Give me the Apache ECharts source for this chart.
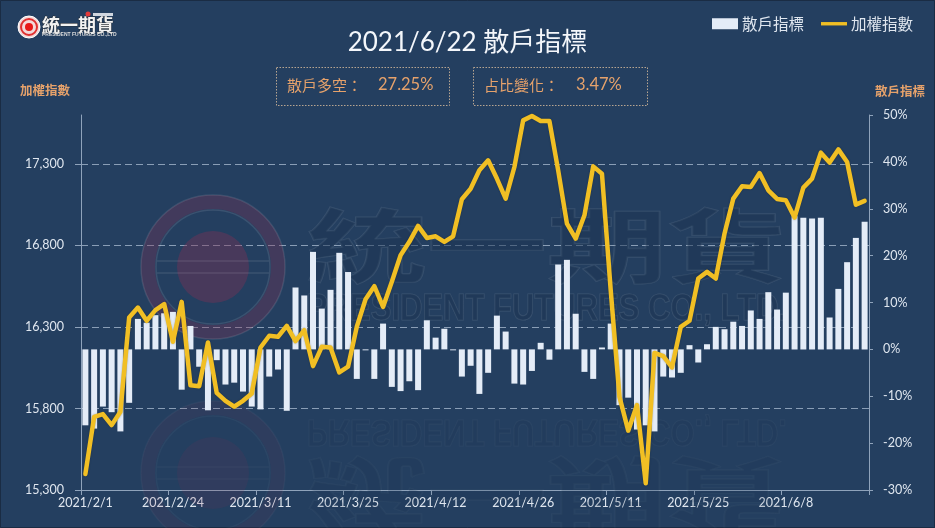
<!DOCTYPE html>
<html><head><meta charset="utf-8">
<style>html,body{margin:0;padding:0;background:#243f60}#c{width:935px;height:528px}</style>
<script src="https://cdn.jsdelivr.net/npm/echarts@6/dist/echarts.min.js"></script></head>
<body><div id="c"></div>
<script>
const dates=["2021/2/1","2021/2/2","2021/2/3","2021/2/4","2021/2/5","2021/2/17","2021/2/18","2021/2/19","2021/2/22","2021/2/23",
"2021/2/24","2021/2/25","2021/2/26","2021/3/2","2021/3/3","2021/3/4","2021/3/5","2021/3/8","2021/3/9","2021/3/10",
"2021/3/11","2021/3/12","2021/3/15","2021/3/16","2021/3/17","2021/3/18","2021/3/19","2021/3/22","2021/3/23","2021/3/24",
"2021/3/25","2021/3/26","2021/3/29","2021/3/30","2021/3/31","2021/4/1","2021/4/6","2021/4/7","2021/4/8","2021/4/9",
"2021/4/12","2021/4/13","2021/4/14","2021/4/15","2021/4/16","2021/4/19","2021/4/20","2021/4/21","2021/4/22","2021/4/23",
"2021/4/26","2021/4/27","2021/4/28","2021/4/29","2021/5/3","2021/5/4","2021/5/5","2021/5/6","2021/5/7","2021/5/10",
"2021/5/11","2021/5/12","2021/5/13","2021/5/14","2021/5/17","2021/5/18","2021/5/19","2021/5/20","2021/5/21","2021/5/24",
"2021/5/25","2021/5/26","2021/5/27","2021/5/28","2021/5/31","2021/6/1","2021/6/2","2021/6/3","2021/6/4","2021/6/7",
"2021/6/8","2021/6/9","2021/6/10","2021/6/11","2021/6/15","2021/6/16","2021/6/17","2021/6/18","2021/6/21","2021/6/22"];
const retailIndicator=[-16.2,-16.9,-12.2,-13.4,-17.5,-11.4,6.5,5.7,7.3,7.7,
8.0,-8.6,5.0,-3.7,-13.0,-2.3,-7.5,-7.1,-9.0,-12.2,
-12.8,-5.8,-4.3,-13.1,13.2,11.5,20.8,8.7,12.7,20.6,
16.5,-6.3,-0.2,-6.3,5.5,-8.0,-8.9,-6.8,-8.7,6.2,
2.5,4.4,-0.2,-5.8,-3.5,-9.5,-5.0,7.2,3.8,-7.3,
-7.5,-4.6,1.4,-2.2,18.1,19.1,7.6,-4.8,-6.3,0.4,
5.5,-11.9,-10.3,-17.1,-16.2,-17.5,-5.8,-6.0,-5.0,0.9,
-2.8,1.1,4.8,4.3,5.9,5.0,8.3,6.5,12.2,8.5,
12.1,28.4,28.1,27.9,28.1,6.8,12.9,18.6,23.78,27.25];
const weightedIndex=[15398,15749,15766,15698,15780,16358,16419,16338,16403,16440,
16209,16454,15943,15937,16205,15896,15847,15811,15847,15892,
16174,16246,16240,16307,16213,16280,16060,16178,16174,16021,
16056,16301,16470,16550,16423,16577,16740,16822,16920,16846,
16856,16822,16856,17083,17148,17261,17322,17210,17087,17281,
17567,17594,17563,17563,17261,16934,16842,16985,17285,17240,
16525,15872,15664,15821,15341,16141,16121,16052,16301,16338,
16597,16638,16597,16873,17087,17163,17159,17244,17138,17085,
17077,16971,17155,17210,17369,17308,17389,17312,17050,17073];
const leftTicks=[15300,15800,16300,16800,17300];
const FONT='Lato,"Noto Sans CJK TC",sans-serif';
const ORANGE='#e6a26b', AXIS='#8fa3bb', TXT='#dfe6ef';

function mark(flip,a){
  const ring='rgba(255,255,255,'+0.10*a+')';
  const wrap=(el)=>Object.assign(el,{z:1,silent:true});
  const cy=flip?473:267;
  const sy=flip?-1:1;
  const maroon=(o)=>'rgba(125,50,85,'+o*a+')';
  return [
   wrap({type:'circle',shape:{cx:213,cy:cy,r:65},style:{fill:'none',stroke:maroon(0.34),lineWidth:14}}),
   wrap({type:'circle',shape:{cx:213,cy:cy,r:72},style:{fill:'none',stroke:ring,lineWidth:1.5}}),
   wrap({type:'circle',shape:{cx:213,cy:cy,r:57},style:{fill:'none',stroke:ring,lineWidth:1.5}}),
   wrap({type:'circle',shape:{cx:213,cy:cy,r:36},style:{fill:maroon(0.42),stroke:'none'}}),
   wrap({type:'line',shape:{x1:157,y1:cy-6,x2:269,y2:cy-6},style:{stroke:ring,lineWidth:1.5}}),
   wrap({type:'line',shape:{x1:157,y1:cy+6,x2:269,y2:cy+6},style:{stroke:ring,lineWidth:1.5}}),
   wrap({type:'text',x:547,y:flip?494:246,scaleY:0.66*sy,
     style:{text:'統一期貨',font:'bold 120px "Noto Sans CJK TC"',align:'center',verticalAlign:'middle',
     fill:'rgba(28,52,82,'+0.5*a+')',stroke:'rgba(255,255,255,'+0.09*a+')',lineWidth:2}}),
   wrap({type:'text',x:547,y:flip?430:310,scaleY:1.2*sy,
     style:{text:'PRESIDENT FUTURES CO., LTD.',font:'bold 31px "Liberation Sans"',align:'center',verticalAlign:'middle',
     fill:'rgba(28,52,82,'+0.5*a+')',stroke:'rgba(255,255,255,'+0.11*a+')',lineWidth:1}})
  ];
}
function box(x,w,label,val,vx){
  return [
   {type:'rect',shape:{x:x+0.5,y:67.5,width:w,height:38},style:{fill:'none',stroke:'#b7a590',lineWidth:1,lineDash:[1.5,1.5]},z:3},
   {type:'text',x:x+11,y:85,style:{text:label,font:'15px "Noto Sans CJK TC"',fill:ORANGE,verticalAlign:'middle'},z:3},
   {type:'text',x:vx,y:85,style:{text:val,font:'16.5px Lato',fill:ORANGE,verticalAlign:'middle'},z:3}
  ];
}
const graphic=[].concat(
  [{type:'rect',shape:{x:0.5,y:0.5,width:934,height:527},style:{fill:'none',stroke:'#1a2c44',lineWidth:1},z:1}],
  mark(false,1),mark(true,0.35),
  box(276,173,'散戶多空：','27.25%',378),box(473,174,'占比變化：','3.47%',576),
  [
   {type:'circle',shape:{cx:29,cy:27,r:11},style:{fill:'#f4d8d8',stroke:'#fff',lineWidth:1},z:3},
   {type:'circle',shape:{cx:29,cy:27,r:8},style:{fill:'none',stroke:'#e03030',lineWidth:2},z:3},
   {type:'circle',shape:{cx:29,cy:27,r:4},style:{fill:'#e81818'},z:3},
   {type:'text',x:42,y:25,style:{text:'統一期貨',font:'bold 18px "Noto Sans CJK TC"',fill:'#f2f2f2',stroke:'#222',lineWidth:0.6,verticalAlign:'middle'},z:3},
   {type:'text',x:42,y:34.5,style:{text:'PRESIDENT FUTURES CO.,LTD',font:'bold 5px "Liberation Sans"',fill:'#ddd',verticalAlign:'middle'},z:3},
   {type:'circle',shape:{cx:88,cy:14,r:2.5},style:{fill:'#e23a3a'},z:3},
   {type:'rect',shape:{x:93,y:13,width:20,height:3},style:{fill:'#cfd6df'},z:3},
   {type:'text',x:20,y:90,style:{text:'加權指數',font:'bold 12.5px "Noto Sans CJK TC"',fill:ORANGE,verticalAlign:'middle'},z:3},
   {type:'text',x:875,y:91,style:{text:'散戶指標',font:'bold 12.5px "Noto Sans CJK TC"',fill:ORANGE,verticalAlign:'middle'},z:3}
  ]);
const chart=echarts.init(document.getElementById('c'),null,{renderer:'canvas'});
chart.setOption({
  animation:false,backgroundColor:'#243f60',
  textStyle:{fontFamily:FONT},
  title:{text:'2021/6/22 散戶指標',left:'center',top:25,textStyle:{color:'#f4f7fb',fontSize:26,fontWeight:'normal',fontFamily:FONT}},
  legend:{right:17,top:11,itemGap:17,itemWidth:26,itemHeight:11,textStyle:{color:TXT,fontSize:15.5,fontFamily:'"Noto Sans CJK TC"',padding:[0,0,0,-1]},
    data:[{name:'散戶指標',icon:'rect'},{name:'加權指數',icon:'path://M0 0L0 0M0 38H260V72H0ZM260 110L260 110'}]},
  grid:{left:81,right:66,top:115,bottom:38,containLabel:false},
  xAxis:{type:'category',data:dates,boundaryGap:true,
    axisLine:{onZero:false,lineStyle:{color:AXIS,width:1}},
    axisTick:{show:true,interval:9,length:5,lineStyle:{color:AXIS}},
    axisLabel:{interval:9,color:TXT,fontSize:12.5,margin:7,hideOverlap:false,fontFamily:FONT},splitLine:{show:false}},
  yAxis:[
   {type:'value',min:15300,max:17600,interval:500,
    axisLine:{show:true,lineStyle:{color:AXIS}},
    axisTick:{show:true,length:6,lineStyle:{color:AXIS},customValues:leftTicks},
    axisLabel:{color:TXT,fontSize:12.5,margin:17,customValues:leftTicks,formatter:v=>v.toLocaleString('en-US'),fontFamily:FONT},
    splitLine:{show:true,lineStyle:{color:'#8a9eb6',type:[7,4],width:1}}},
   {type:'value',min:-30,max:50,interval:10,position:'right',
    axisLine:{show:true,lineStyle:{color:AXIS}},axisTick:{show:true,length:4,lineStyle:{color:AXIS}},
    axisLabel:{color:TXT,fontSize:12.5,margin:14,formatter:'{value}%',fontFamily:FONT},splitLine:{show:false}}
  ],
  series:[
   {name:'散戶指標',type:'bar',yAxisIndex:1,data:retailIndicator,barWidth:6,z:3,itemStyle:{color:'#e4ecf7'}},
   {name:'加權指數',type:'line',yAxisIndex:0,data:weightedIndex,symbol:'none',smooth:false,z:4,
    lineStyle:{color:'#f1bf24',width:4.5,cap:'round',join:'round',shadowColor:'rgba(20,25,30,.3)',shadowBlur:2},itemStyle:{color:'#f1bf24'}}
  ],
  graphic:graphic
});
</script></body></html>
